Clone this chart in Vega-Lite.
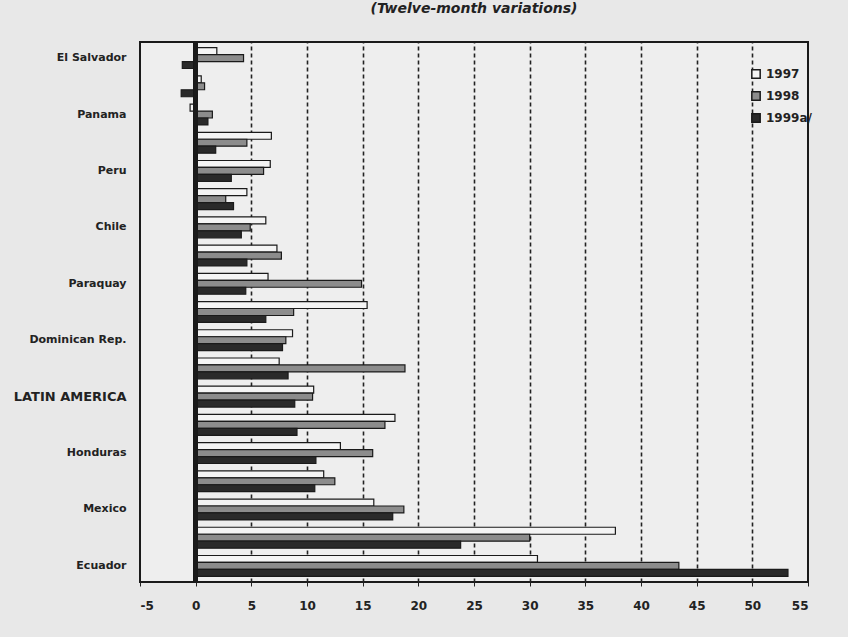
{
  "$schema": "https://vega.github.io/schema/vega-lite/v6.json",
  "autosize": {"type": "none"},
  "width": 668,
  "height": 540,
  "padding": {"left": 140, "top": 42, "right": 40, "bottom": 55},
  "background": "#e8e8e8",
  "title": {"text": "(Twelve-month variations)", "fontStyle": "italic", "fontWeight": "bold", "fontSize": 14, "font": "DejaVu Sans", "color": "#222222", "offset": 24, "anchor": "middle"},
  "data": {"values": [
    {"country": "El Salvador", "year": "1997", "value": 1.9},
    {"country": "El Salvador", "year": "1998", "value": 4.3},
    {"country": "El Salvador", "year": "1999a/", "value": -1.2},
    {"country": "Argentina", "year": "1997", "value": 0.5},
    {"country": "Argentina", "year": "1998", "value": 0.8},
    {"country": "Argentina", "year": "1999a/", "value": -1.3},
    {"country": "Panama", "year": "1997", "value": -0.5},
    {"country": "Panama", "year": "1998", "value": 1.5},
    {"country": "Panama", "year": "1999a/", "value": 1.1},
    {"country": "Bolivia", "year": "1997", "value": 6.8},
    {"country": "Bolivia", "year": "1998", "value": 4.6},
    {"country": "Bolivia", "year": "1999a/", "value": 1.8},
    {"country": "Peru", "year": "1997", "value": 6.7},
    {"country": "Peru", "year": "1998", "value": 6.1},
    {"country": "Peru", "year": "1999a/", "value": 3.2},
    {"country": "Brazil", "year": "1997", "value": 4.6},
    {"country": "Brazil", "year": "1998", "value": 2.7},
    {"country": "Brazil", "year": "1999a/", "value": 3.4},
    {"country": "Chile", "year": "1997", "value": 6.3},
    {"country": "Chile", "year": "1998", "value": 4.9},
    {"country": "Chile", "year": "1999a/", "value": 4.1},
    {"country": "Guatemala", "year": "1997", "value": 7.3},
    {"country": "Guatemala", "year": "1998", "value": 7.7},
    {"country": "Guatemala", "year": "1999a/", "value": 4.6},
    {"country": "Paraquay", "year": "1997", "value": 6.5},
    {"country": "Paraquay", "year": "1998", "value": 14.9},
    {"country": "Paraquay", "year": "1999a/", "value": 4.5},
    {"country": "Uruguay", "year": "1997", "value": 15.4},
    {"country": "Uruguay", "year": "1998", "value": 8.8},
    {"country": "Uruguay", "year": "1999a/", "value": 6.3},
    {"country": "Dominican Rep.", "year": "1997", "value": 8.7},
    {"country": "Dominican Rep.", "year": "1998", "value": 8.1},
    {"country": "Dominican Rep.", "year": "1999a/", "value": 7.8},
    {"country": "Nicaragua", "year": "1997", "value": 7.5},
    {"country": "Nicaragua", "year": "1998", "value": 18.8},
    {"country": "Nicaragua", "year": "1999a/", "value": 8.3},
    {"country": "LATIN AMERICA", "year": "1997", "value": 10.6},
    {"country": "LATIN AMERICA", "year": "1998", "value": 10.5},
    {"country": "LATIN AMERICA", "year": "1999a/", "value": 8.9},
    {"country": "Colombia", "year": "1997", "value": 17.9},
    {"country": "Colombia", "year": "1998", "value": 17.0},
    {"country": "Colombia", "year": "1999a/", "value": 9.1},
    {"country": "Honduras", "year": "1997", "value": 13.0},
    {"country": "Honduras", "year": "1998", "value": 15.9},
    {"country": "Honduras", "year": "1999a/", "value": 10.8},
    {"country": "Costa Rica", "year": "1997", "value": 11.5},
    {"country": "Costa Rica", "year": "1998", "value": 12.5},
    {"country": "Costa Rica", "year": "1999a/", "value": 10.7},
    {"country": "Mexico", "year": "1997", "value": 16.0},
    {"country": "Mexico", "year": "1998", "value": 18.7},
    {"country": "Mexico", "year": "1999a/", "value": 17.7},
    {"country": "Venezuela", "year": "1997", "value": 37.7},
    {"country": "Venezuela", "year": "1998", "value": 30.0},
    {"country": "Venezuela", "year": "1999a/", "value": 23.8},
    {"country": "Ecuador", "year": "1997", "value": 30.7},
    {"country": "Ecuador", "year": "1998", "value": 43.4},
    {"country": "Ecuador", "year": "1999a/", "value": 53.2}
  ]},
  "encoding": {
    "x": {
      "field": "value", "type": "quantitative",
      "scale": {"domain": [-5, 55], "nice": false, "zero": false},
      "axis": {
        "title": null,
        "values": [-5, 0, 5, 10, 15, 20, 25, 30, 35, 40, 45, 50, 55],
        "labelExpr": "'' + datum.value",
        "labelFont": "DejaVu Sans", "labelFontWeight": "bold", "labelFontSize": 12, "labelColor": "#222222",
        "labelPadding": 14, "ticks": true, "tickSize": 4, "tickColor": "#222222", "domain": false,
        "grid": true, "gridColor": "#222222", "gridDash": [4, 3], "gridWidth": 1.6,
        "gridOpacity": {"condition": {"test": "datum.value <= 0 || datum.value >= 55", "value": 0}, "value": 1}
      }
    },
    "y": {
      "field": "country", "type": "nominal",
      "sort": ["El Salvador", "Argentina", "Panama", "Bolivia", "Peru", "Brazil", "Chile", "Guatemala", "Paraquay", "Uruguay", "Dominican Rep.", "Nicaragua", "LATIN AMERICA", "Colombia", "Honduras", "Costa Rica", "Mexico", "Venezuela", "Ecuador"],
      "scale": {"paddingInner": 0.26, "paddingOuter": 0.2},
      "axis": {
        "title": null,
        "values": ["El Salvador", "Panama", "Peru", "Chile", "Paraquay", "Dominican Rep.", "LATIN AMERICA", "Honduras", "Mexico", "Ecuador"],
        "labelFont": "DejaVu Sans", "labelFontWeight": "bold", "labelColor": "#222222",
        "labelFontSize": {"condition": {"test": "datum.value == 'LATIN AMERICA'", "value": 13}, "value": 11},
        "labelPadding": 14, "ticks": false, "domain": false, "grid": false
      }
    }
  },
  "layer": [
    {
      "mark": {"type": "bar", "stroke": "#1a1a1a", "strokeWidth": 1.2},
      "encoding": {
        "yOffset": {"field": "year", "type": "nominal", "sort": ["1997", "1998", "1999a/"]},
        "fill": {
          "field": "year", "type": "nominal",
          "scale": {"domain": ["1997", "1998", "1999a/"], "range": ["#f4f4f4", "#8c8c8c", "#2a2a2a"]},
          "legend": {
            "title": null, "orient": "none", "legendX": 610, "legendY": 26,
            "symbolType": "square", "symbolSize": 70, "symbolStrokeColor": "#1a1a1a", "symbolStrokeWidth": 1.5,
            "labelFont": "DejaVu Sans", "labelFontWeight": "bold", "labelFontSize": 12, "labelColor": "#222222",
            "rowPadding": 6
          }
        }
      }
    },
    {
      "mark": {"type": "rule", "color": "#1a1a1a", "strokeWidth": 4},
      "encoding": {"x": {"datum": 0}, "y": null}
    }
  ],
  "config": {
    "view": {"stroke": "#1a1a1a", "strokeWidth": 2, "fill": "#eeeeee"}
  }
}
